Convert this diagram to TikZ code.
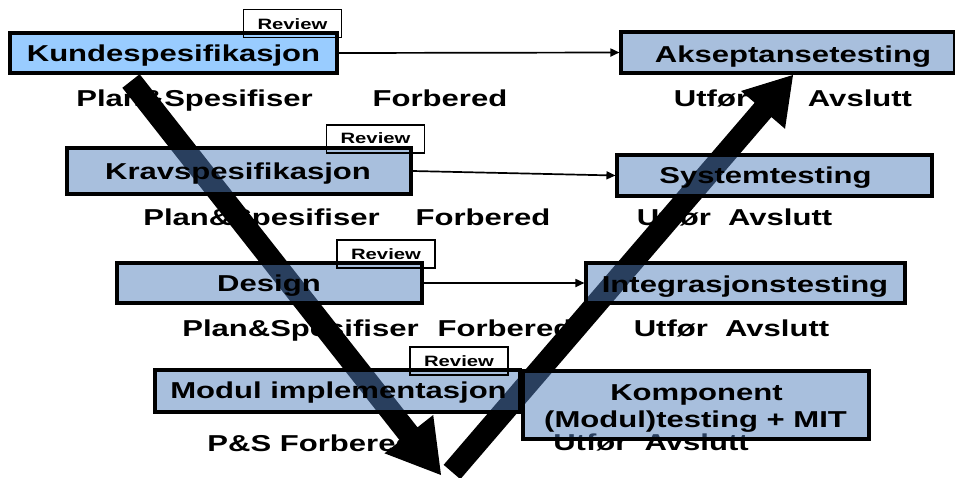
\documentclass[tikz,border=0pt]{standalone}
\usepackage{fontspec}
\setmainfont{Liberation Sans}[FakeStretch=1.35]
\usetikzlibrary{calc,arrows.meta}

\definecolor{phasefill}{RGB}{82,127,188}
\definecolor{topfill}{RGB}{153,204,255}

\tikzset{
  phasebox/.style={draw=black, line width=3.1pt, fill=phasefill, fill opacity=0.5,
    inner sep=0pt, rectangle},
  topbox/.style={phasebox, fill=topfill, fill opacity=1},
  reviewbox/.style={draw=black, line width=1.2pt, inner sep=0pt, rectangle,
    minimum width=98pt, minimum height=28pt},
  boxtext/.style={anchor=base, inner sep=0pt, font=\bfseries\fontsize{23}{27}\selectfont},
  steptext/.style={boxtext},
  reviewtext/.style={anchor=base, inner sep=0pt, font=\bfseries\fontsize{15}{18}\selectfont},
  link/.style={line width=1.7pt, -{Triangle[length=9pt,width=8pt]}},
}

% thick V-arrow: #1 start, #2 tip, #3 head length, #4 head half width
\newcommand{\fatarrow}[4]{%
  \coordinate (hb) at ($(#2)!#3!(#1)$);
  \fill[black] ($(#1)!11pt!90:(#2)$) -- ($(hb)!11pt!90:(#2)$) -- ($(hb)!#4!90:(#2)$)
    -- (#2) -- ($(hb)!#4!-90:(#2)$) -- ($(hb)!11pt!-90:(#2)$)
    -- ($(#1)!11pt!-90:(#2)$) -- cycle;
}

\begin{document}
\begin{tikzpicture}[x=1pt,y=-1pt]
\useasboundingbox (0,0) rectangle (955,477);

% activity labels under the boxes
\node[steptext] (l1a) at (194.5,106) {Plan\&Spesifiser};
\node[steptext] (l1b) at (440,106) {Forbered};
\node[steptext] (l1c) at (711,106) {Utfør};
\node[steptext] (l1d) at (860,106) {Avslutt};
\node[steptext] (l2a) at (261.5,225) {Plan\&Spesifiser};
\node[steptext] (l2b) at (483,225) {Forbered};
\node[steptext] (l2c) at (734.5,225) {Utfør\ \ Avslutt};
\node[steptext] (l3a) at (300.5,336) {Plan\&Spesifiser};
\node[steptext] (l3b) at (505,336) {Forbered};
\node[steptext] (l3c) at (731.5,336) {Utfør\ \ Avslutt};
\node[steptext] (l4a) at (311,451) {P\&S Forbered};
\node[steptext] (l4c) at (651,450) {Utfør\ \ Avslutt};

% the V
\coordinate (downS) at (131,81);
\coordinate (downT) at (441,475);
\coordinate (upS) at (452,472);
\coordinate (upT) at (793,75);
\fatarrow{downS}{downT}{52pt}{31pt}
\fatarrow{upS}{upT}{46pt}{29pt}

% phase boxes
\node[topbox, minimum width=327pt, minimum height=40pt] (kunde) at (173.5,53) {};
\node[phasebox, minimum width=334pt, minimum height=41pt] (aksept) at (788,52.5) {};
\node[phasebox, minimum width=344pt, minimum height=46pt] (krav) at (239,171) {};
\node[phasebox, minimum width=315pt, minimum height=41pt] (system) at (774.5,175.5) {};
\node[phasebox, minimum width=305pt, minimum height=40pt] (design) at (269.5,283) {};
\node[phasebox, minimum width=319pt, minimum height=40pt] (integ) at (745.5,283) {};
\node[phasebox, minimum width=365pt, minimum height=42pt] (modul) at (337.5,391) {};
\node[phasebox, minimum width=346pt, minimum height=68pt] (komp) at (696,405) {};

% review tags
\node[reviewbox] (rev1) at (292.5,23.5) {};
\node[reviewbox] (rev2) at (375.5,139) {};
\node[reviewbox] (rev3) at (386,254) {};
\node[reviewbox] (rev4) at (459,361) {};
\node[reviewtext] at (292.5,29) {Review};
\node[reviewtext] at (375.5,143) {Review};
\node[reviewtext] at (386,259) {Review};
\node[reviewtext] at (459,366) {Review};

% box titles
\node[boxtext] (t1) at (173.5,61) {Kundespesifikasjon};
\node[boxtext] (t2) at (793,62) {Akseptansetesting};
\node[boxtext] (t3) at (238,179) {Kravspesifikasjon};
\node[boxtext] (t4) at (765.5,183) {Systemtesting};
\node[boxtext] (t5) at (269,291) {Design};
\node[boxtext] (t6) at (745,292) {Integrasjonstesting};
\node[boxtext] (t7) at (338.5,398) {Modul implementasjon};
\node[boxtext] (t8) at (696.5,400) {Komponent};
\node[boxtext] (t9) at (695.5,427) {(Modul)testing + MIT};

% test planning links
\draw[link] (kunde.east) -- (aksept.west);
\draw[link] (krav.east) -- (system.west);
\draw[link] (design.east) -- (integ.west);
\end{tikzpicture}
\end{document}
